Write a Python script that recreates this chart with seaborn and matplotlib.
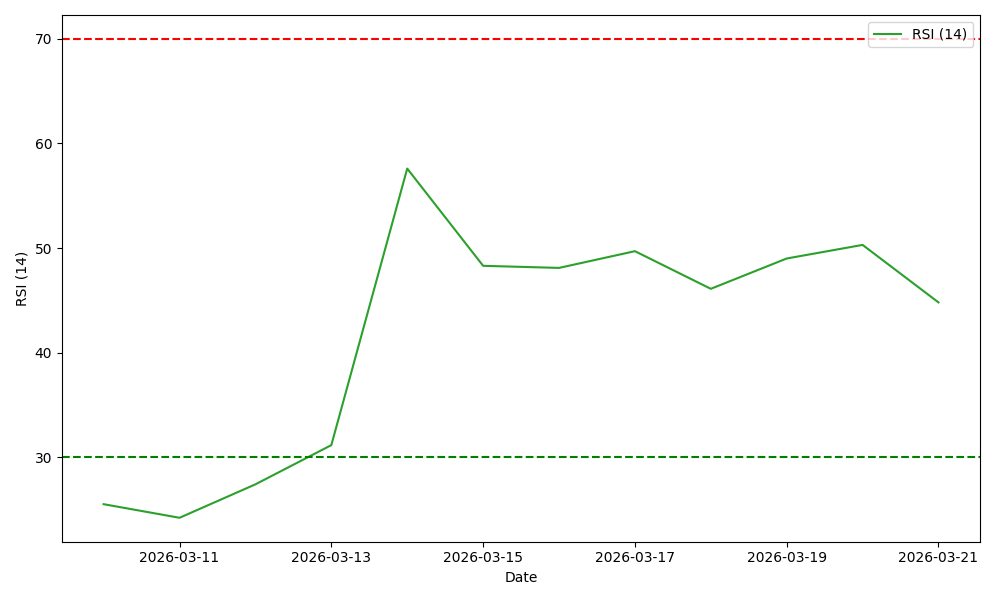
import pandas as pd
import matplotlib
matplotlib.use("Agg")
import matplotlib.pyplot as plt
import seaborn as sns

# RSI values
dates = pd.date_range("2026-03-10", "2026-03-21", freq="D")
rsi_values = [25.5, 24.2, 27.4, 31.15, 57.6, 48.3, 48.1, 49.7, 46.1, 49.0, 50.3, 44.8]
overbought = 70
oversold = 30

df = pd.DataFrame({"Date": dates, "RSI": rsi_values})

fig, ax = plt.subplots(figsize=(10, 6), dpi=100)
sns.lineplot(data=df, x="Date", y="RSI", ax=ax, color="tab:green", label="RSI (14)")
ax.axhline(overbought, color="red", linestyle="--")
ax.axhline(oversold, color="green", linestyle="--")
ax.set_xlabel("Date")
ax.set_ylabel("RSI (14)")
ax.legend(loc="upper right")
plt.tight_layout()
plt.savefig("out.png", dpi=100)
